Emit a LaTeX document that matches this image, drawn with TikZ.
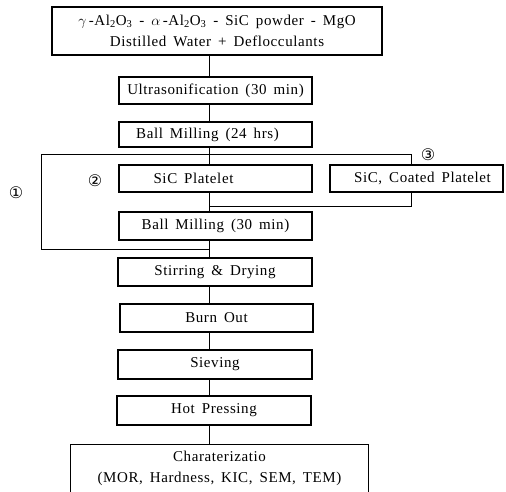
\documentclass[tikz,border=0pt]{standalone}
\usepackage{fontspec}
\setmainfont{Liberation Serif}[LetterSpace=4.0, WordSpace=1.6]
\newfontfamily\circfont{DejaVu Sans}
\begin{document}
\begin{tikzpicture}[x=1pt,y=-1pt,
  box/.style={draw, line width=1.2pt, inner sep=0pt, rectangle, font=\fontsize{15}{21}\selectfont, align=center},
  conn/.style={line width=0.9pt},
  circ/.style={font=\circfont\fontsize{16}{16}\selectfont, inner sep=0pt}]
\useasboundingbox (0,0) rectangle (506,492);
\node[box, minimum width=330pt, minimum height=48pt] (top) at (217,31)
  {$\gamma$\,-Al\textsubscript{2}O\textsubscript{3} - $\alpha$\,-Al\textsubscript{2}O\textsubscript{3} - SiC powder - MgO\\Distilled Water + Deflocculants};
\node[box, minimum width=193pt, minimum height=27pt] (ultra) at (215.5,90.5) {Ultrasonification (30 min)};
\node[box, minimum width=193pt, minimum height=25pt] (bm24) at (215.5,134.5) {Ball Milling (24 hrs)\hspace*{16pt}};
\node[box, minimum width=193pt, minimum height=27pt] (sic) at (215.5,178.5) {SiC Platelet\hspace*{44pt}};
\node[box, minimum width=173pt, minimum height=27pt] (coated) at (416.5,178.5) {\hspace*{12pt}SiC, Coated Platelet};
\node[box, minimum width=193pt, minimum height=28pt] (bm30) at (215.5,226) {Ball Milling (30 min)};
\node[box, minimum width=194pt, minimum height=28pt] (stir) at (215,272) {Stirring \& Drying};
\node[box, minimum width=193pt, minimum height=28pt] (burn) at (216.5,318) {Burn Out};
\node[box, minimum width=194pt, minimum height=29pt] (siev) at (215,364.5) {Sieving};
\node[box, minimum width=194pt, minimum height=29pt] (hot) at (214,410.5) {Hot Pressing};
\node[box, draw=none, minimum width=297pt, minimum height=47pt] (char) at (219.5,468.5) {Charaterizatio\\(MOR, Hardness, KIC, SEM, TEM)};
\draw[line width=1.2pt] (char.south west) -- (char.north west) -- (char.north east) -- (char.south east);
\coordinate (sp) at (209,0);
\coordinate (bl) at (41,154);
\coordinate (br) at (411,154);
\coordinate (ml) at (209,206);
\coordinate (mr) at (411,206);
\coordinate (ll) at (41,249);
\coordinate (lr) at (209,249);
\draw[conn] (top.south -| sp) -- (ultra.north -| sp);
\draw[conn] (ultra.south -| sp) -- (bm24.north -| sp);
\draw[conn] (bm24.south -| sp) -- (sic.north -| sp);
\draw[conn] (coated.north -| br) -- (br) -- (bl) -- (ll) -- (lr);
\draw[conn] (sic.south -| sp) -- (bm30.north -| sp);
\draw[conn] (ml) -- (mr) -- (coated.south -| mr);
\draw[conn] (bm30.south -| sp) -- (stir.north -| sp);
\draw[conn] (stir.south -| sp) -- (burn.north -| sp);
\draw[conn] (burn.south -| sp) -- (siev.north -| sp);
\draw[conn] (siev.south -| sp) -- (hot.north -| sp);
\draw[conn] (hot.south -| sp) -- (char.north -| sp);
\node[circ] (c1) at (16,193) {①};
\node[circ] (c2) at (95,181) {②};
\node[circ] (c3) at (428,155) {③};
\end{tikzpicture}
\end{document}
